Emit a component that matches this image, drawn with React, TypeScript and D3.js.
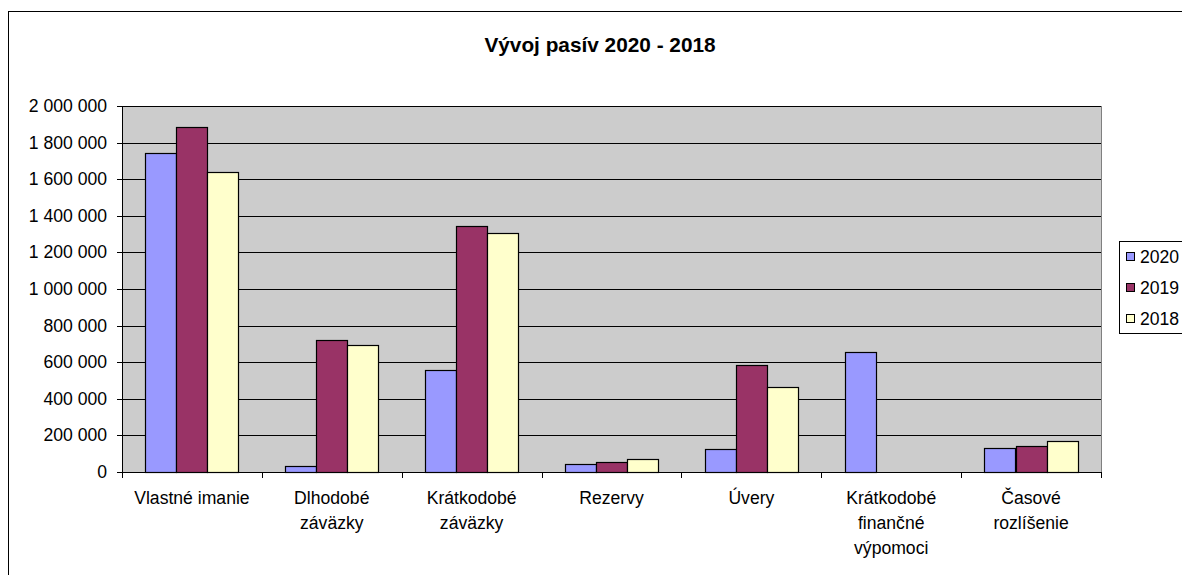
import React, { useEffect, useRef } from 'react';
import * as d3 from 'd3';

const categories = [
  'Vlastné imanie',
  'Dlhodobé záväzky',
  'Krátkodobé záväzky',
  'Rezervy',
  'Úvery',
  'Krátkodobé finančné výpomoci',
  'Časové rozlíšenie',
];
const years = ['2020', '2019', '2018'];
const values2020 = [1745000, 34000, 556000, 42000, 126000, 657000, 133000];
const values2019 = [1884000, 720000, 1343000, 53000, 585000, 0, 144000];
const values2018 = [1639000, 692000, 1306000, 71000, 466000, 0, 169000];
const seriesColors = ['#9999FF', '#993366', '#FFFFCC'];

const App = () => {
  const ref = useRef<SVGSVGElement>(null);

  useEffect(() => {
    document.body.style.margin = '0';
    const svg = d3.select(ref.current);
    svg.selectAll('*').remove();

    const width = 1182;
    const height = 575;
    const left = 122, right = 1101, top = 106, bottom = 472;
    const font = 'Liberation Sans, Arial, sans-serif';
    const fs = '17.6px';

    const series = [values2020, values2019, values2018];

    const x0 = d3.scaleBand().domain(categories).range([left, right]).padding(0);
    const x1 = d3.scaleBand().domain(years).range([0, x0.bandwidth()]).paddingInner(0).paddingOuter(0.75);
    const y = d3.scaleLinear().domain([0, 2000000]).range([bottom, top]);

    const fmt = d3.formatLocale({ decimal: ',', thousands: '\u00a0', grouping: [3], currency: ['', ''] }).format(',');

    svg.attr('width', width).attr('height', height).style('font-family', font);

    // chart border
    svg.append('rect')
      .attr('x', 8.5).attr('y', 11.5)
      .attr('width', 1300).attr('height', 700)
      .attr('fill', '#fff').attr('stroke', '#000');

    svg.append('text')
      .attr('x', 600).attr('y', 52)
      .attr('text-anchor', 'middle')
      .style('font-size', '20.8px').style('font-weight', 'bold')
      .text('Vývoj pasív 2020 - 2018');

    // plot area
    svg.append('rect')
      .attr('x', left).attr('y', top)
      .attr('width', right - left).attr('height', bottom - top)
      .attr('fill', '#CCCCCC');
    svg.append('line')
      .attr('x1', right + 0.5).attr('x2', right + 0.5)
      .attr('y1', top).attr('y2', bottom)
      .attr('stroke', '#808080');

    const ticks = y.ticks(10);
    svg.append('g').selectAll('line')
      .data(ticks.filter(d => d > 0))
      .join('line')
        .attr('x1', left).attr('x2', right)
        .attr('y1', d => Math.round(y(d)) + 0.5)
        .attr('y2', d => Math.round(y(d)) + 0.5)
        .attr('stroke', '#000');

    // bars
    const g = svg.append('g');
    categories.forEach((c, i) => {
      years.forEach((yr, s) => {
        const v = series[s][i];
        if (!v) return;
        const bx = Math.round((x0(c) as number) + (x1(yr) as number)) + 0.5;
        const bw = Math.round(x1.bandwidth());
        g.append('rect')
          .attr('x', bx).attr('y', Math.round(y(v)) + 0.5)
          .attr('width', bw).attr('height', Math.round(y(0)) - Math.round(y(v)))
          .attr('fill', seriesColors[s])
          .attr('stroke', '#000').attr('stroke-width', 1.2);
      });
    });

    // y axis
    const ya = svg.append('g');
    ya.append('line')
      .attr('x1', left + 0.5).attr('x2', left + 0.5)
      .attr('y1', top).attr('y2', bottom + 0.5)
      .attr('stroke', '#000');
    ya.selectAll('line.t').data(ticks).join('line')
      .attr('class', 't')
      .attr('x1', left - 5).attr('x2', left)
      .attr('y1', d => Math.round(y(d)) + 0.5)
      .attr('y2', d => Math.round(y(d)) + 0.5)
      .attr('stroke', '#000');
    ya.selectAll('text').data(ticks).join('text')
      .attr('x', 107).attr('y', d => y(d) + 6)
      .attr('text-anchor', 'end')
      .style('font-size', fs)
      .text(d => fmt(d));

    // x axis
    const xa = svg.append('g');
    xa.append('line')
      .attr('x1', left).attr('x2', right + 1)
      .attr('y1', bottom + 0.5).attr('y2', bottom + 0.5)
      .attr('stroke', '#000');
    const bounds = categories.map(c => x0(c) as number).concat([right]);
    xa.selectAll('line.t').data(bounds).join('line')
      .attr('class', 't')
      .attr('x1', d => Math.round(d) + 0.5).attr('x2', d => Math.round(d) + 0.5)
      .attr('y1', bottom).attr('y2', bottom + 6)
      .attr('stroke', '#000');

    const labels = xa.selectAll('text.c').data(categories).join('text')
      .attr('class', 'c')
      .attr('text-anchor', 'middle')
      .style('font-size', fs);
    labels.each(function (d) {
      const el = d3.select(this);
      const cx = (x0(d) as number) + x0.bandwidth() / 2;
      const words = d.split(' ');
      const lines: string[] = [];
      let cur = '';
      const probe = el.append('tspan');
      words.forEach(w => {
        const test = cur ? cur + ' ' + w : w;
        probe.text(test);
        if (cur && (probe.node() as SVGTSpanElement).getComputedTextLength() > 125) {
          lines.push(cur);
          cur = w;
        } else {
          cur = test;
        }
      });
      lines.push(cur);
      probe.remove();
      lines.forEach((ln, k) => {
        el.append('tspan').attr('x', cx).attr('y', 504 + k * 25).text(ln);
      });
    });

    // legend
    const lg = svg.append('g');
    lg.append('rect')
      .attr('x', 1119.5).attr('y', 241.5)
      .attr('width', 100).attr('height', 92)
      .attr('fill', '#fff').attr('stroke', '#000');
    years.forEach((yr, s) => {
      const cy = 257 + s * 31;
      lg.append('rect')
        .attr('x', 1126.5).attr('y', cy - 4.5)
        .attr('width', 8).attr('height', 8)
        .attr('fill', seriesColors[s]).attr('stroke', '#000');
      lg.append('text')
        .attr('x', 1140).attr('y', cy + 6)
        .style('font-size', fs)
        .text(yr);
    });
  }, []);

  return <svg ref={ref}></svg>;
};

export default App;
